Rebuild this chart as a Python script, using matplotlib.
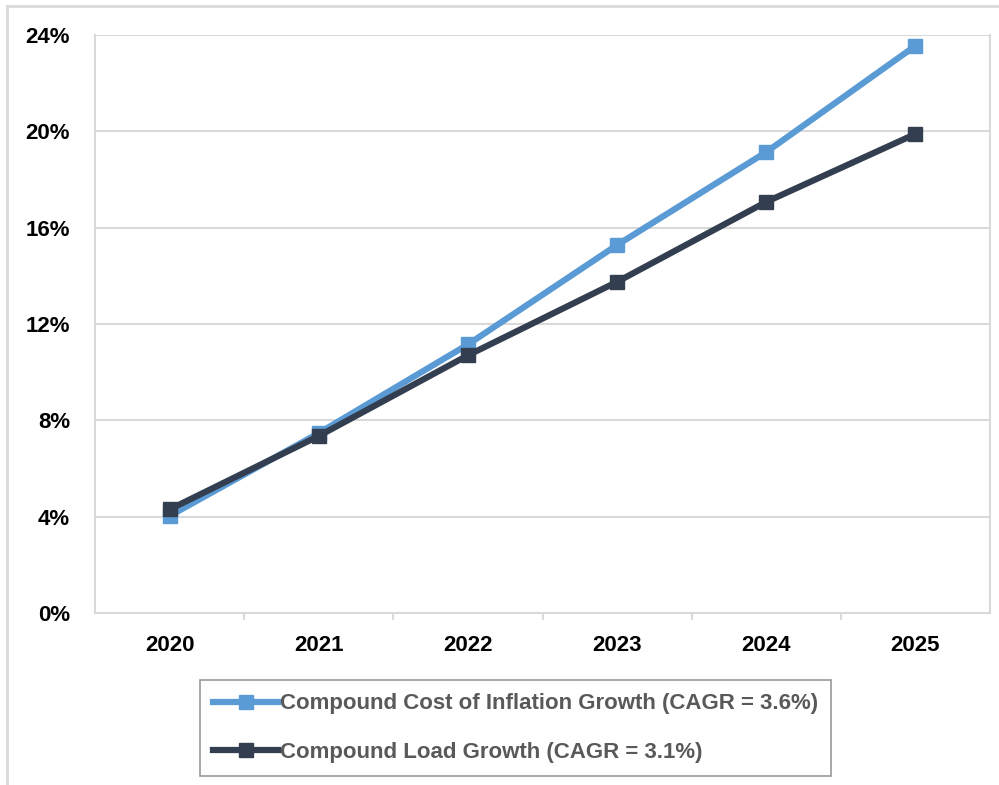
import matplotlib.pyplot as plt
from matplotlib.lines import Line2D
from matplotlib.ticker import FixedLocator, PercentFormatter

years = ["2020", "2021", "2022", "2023", "2024", "2025"]
inflation_growth = [4.03, 7.47, 11.15, 15.28, 19.14, 23.55]
load_growth = [4.30, 7.35, 10.70, 13.75, 17.07, 19.89]
labels = ["Compound Cost of Inflation Growth (CAGR = 3.6%)",
          "Compound Load Growth (CAGR = 3.1%)"]

blue = "#5B9BD5"
navy = "#333F50"
grid_grey = "#D9D9D9"

plt.rcParams["font.family"] = ["Liberation Sans", "DejaVu Sans"]
plt.rcParams["font.weight"] = "bold"

fig = plt.figure(figsize=(9.99, 7.85), dpi=100)
ax = fig.add_axes([95 / 999, 172 / 785, 895 / 999, 578 / 785])

x = range(len(years))
ax.plot(x, inflation_growth, color=blue, linewidth=4.5, marker="s",
        markersize=10, label=labels[0], zorder=3)
ax.plot(x, load_growth, color=navy, linewidth=4.5, marker="s",
        markersize=10, label=labels[1], zorder=4)

ax.set_xlim(-0.5, len(years) - 0.5)
ax.set_ylim(0, 24)
ax.set_yticks(range(0, 25, 4))
ax.yaxis.set_major_formatter(PercentFormatter(decimals=0))
ax.set_xticks(list(x))
ax.set_xticklabels(years)
ax.xaxis.set_minor_locator(FixedLocator([i + 0.5 for i in range(len(years) - 1)]))

ax.tick_params(axis="both", which="major", length=0, labelsize=16)
ax.tick_params(axis="y", pad=18)
ax.tick_params(axis="x", pad=16)
ax.tick_params(axis="x", which="minor", length=5, width=1.5, color=grid_grey)

ax.grid(axis="y", color=grid_grey, linewidth=1.5)
ax.set_axisbelow(True)
for side in ["left", "right", "bottom"]:
    ax.spines[side].set_color(grid_grey)
    ax.spines[side].set_linewidth(1.5)
ax.spines["top"].set_visible(False)

# outer chart frame (top and left edges)
fig.add_artist(Line2D([7 / 999, 1], [1 - 6 / 785, 1 - 6 / 785],
                      color=grid_grey, linewidth=2, transform=fig.transFigure))
fig.add_artist(Line2D([7 / 999, 7 / 999], [0, 1 - 6 / 785],
                      color=grid_grey, linewidth=2, transform=fig.transFigure))

leg = fig.legend(loc="upper left", bbox_to_anchor=(200 / 999, 1 - 680 / 785),
                 frameon=True, fancybox=False, handlelength=2.9,
                 handletextpad=0.1, borderpad=0.6, labelspacing=1.25,
                 borderaxespad=0, prop={"weight": "bold", "size": 16})
leg.get_frame().set_edgecolor("#7F7F7F")
leg.get_frame().set_linewidth(1.2)
for t in leg.get_texts():
    t.set_color("#595959")

fig.savefig("out.png", dpi=100)
